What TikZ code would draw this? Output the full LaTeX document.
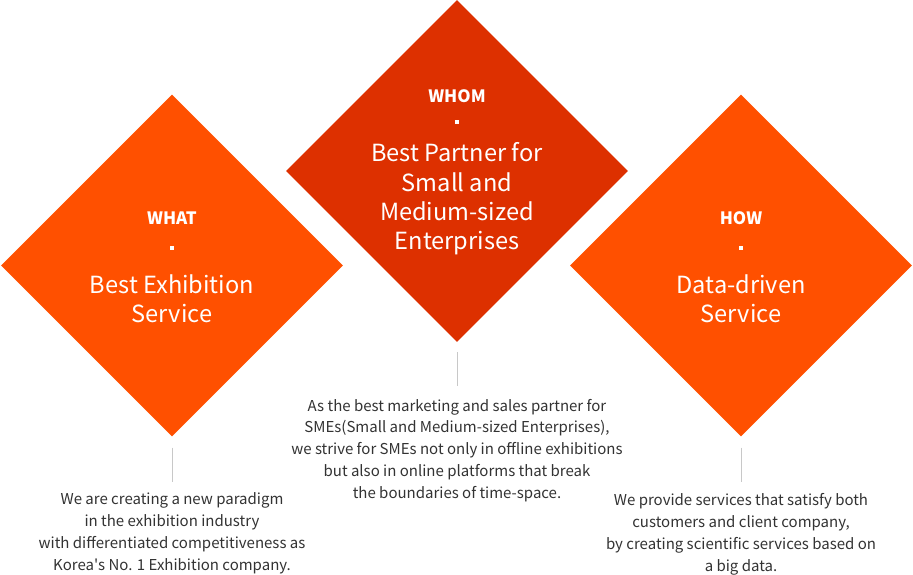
\documentclass[tikz,border=0pt]{standalone}
\usepackage{fontspec}
\setmainfont{Noto Sans CJK KR}
\usetikzlibrary{shapes.geometric}
\definecolor{sideorange}{RGB}{255,80,0}
\definecolor{midred}{RGB}{221,48,0}
\definecolor{txtgray}{RGB}{51,51,51}
\definecolor{linegray}{RGB}{200,200,200}
\begin{document}
\begin{tikzpicture}[x=1pt,y=-1pt,
  dia/.style={diamond, aspect=1, minimum width=342pt, minimum height=342pt, inner sep=0pt, draw=none},
  head/.style={text=white, font=\bfseries\fontsize{17}{20}\selectfont, inner sep=0pt},
  title/.style={text=white, font=\fontsize{23.6}{29.3}\selectfont, align=center, inner sep=0pt},
  desc/.style={text=txtgray, font=\fontsize{15}{21.9}\selectfont, align=center, inner sep=0pt},
  dotmark/.style={fill=white, minimum size=4pt, inner sep=0pt},
  conn/.style={draw=linegray, line width=1pt}]
\useasboundingbox (0,0) rectangle (913,575);
\fill[white] (0,0) rectangle (913,575);
% diamonds
\node[dia, fill=sideorange] (L) at (172,265.5) {};
\node[dia, fill=midred] (M) at (457,171) {};
\node[dia, fill=sideorange] (R) at (741,265.5) {};
% left
\node[head] (Lhead) at (172,218) {WHAT};
\node[dotmark] (Ldot) at (172,248) {};
\node[title] (Ltitle) at (172,298.5) {Best Exhibition\\Service};
% middle
\node[head] (Mhead) at (457,96) {WHOM};
\node[dotmark] (Mdot) at (457,122) {};
\node[title] (Mtitle) at (457,199) {Best Partner for\\Small and\\Medium-sized\\Enterprises};
% right
\node[head] (Rhead) at (741,218) {HOW};
\node[dotmark] (Rdot) at (741,248) {};
\node[title] (Rtitle) at (741,298.5) {Data-driven\\Service};
% connectors
\coordinate (Lc1) at ([yshift=-11pt]L.south);
\coordinate (Lc2) at ([yshift=-45pt]L.south);
\coordinate (Mc1) at ([yshift=-10pt]M.south);
\coordinate (Mc2) at ([yshift=-44pt]M.south);
\coordinate (Rc1) at ([yshift=-11pt]R.south);
\coordinate (Rc2) at ([yshift=-45pt]R.south);
\draw[conn] (Lc1) -- (Lc2);
\draw[conn] (Mc1) -- (Mc2);
\draw[conn] (Rc1) -- (Rc2);
% descriptions
\node[desc] (Ldesc) at (172,533.5) {We are creating a new paradigm\\in the exhibition industry\\with differentiated competitiveness as\\Korea\textquotesingle s No. 1 Exhibition company.};
\node[desc] (Mdesc) at (457,450.5) {As the best marketing and sales partner for\\SMEs(Small and Medium-sized Enterprises),\\we strive for SMEs not only in offline exhibitions\\but also in online platforms that break\\the boundaries of time-space.};
\node[desc] (Rdesc) at (741,534) {We provide services that satisfy both\\customers and client company,\\by creating scientific services based on\\a big data.};
\end{tikzpicture}
\end{document}
